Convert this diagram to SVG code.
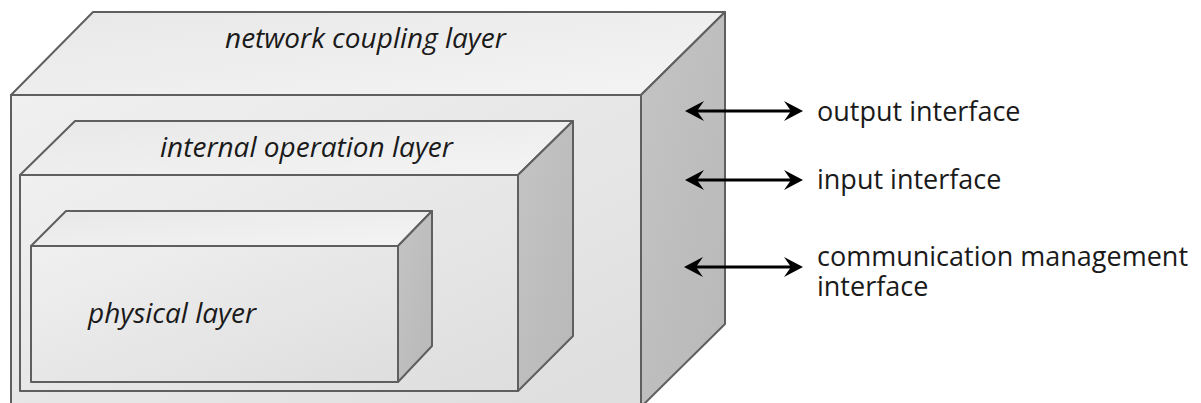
<svg xmlns="http://www.w3.org/2000/svg" width="1201" height="403" viewBox="0 0 1201 403">
<defs>
<linearGradient id="gFront" x1="0" y1="0" x2="1" y2="1">
<stop offset="0" stop-color="#f0f0f0"/><stop offset="1" stop-color="#dedede"/>
</linearGradient>
<linearGradient id="gTop" x1="0" y1="0" x2="1" y2="1">
<stop offset="0" stop-color="#e8e8e8"/><stop offset="1" stop-color="#f4f4f4"/>
</linearGradient>
<linearGradient id="gSide" x1="0" y1="0" x2="1" y2="1">
<stop offset="0" stop-color="#c4c4c4"/><stop offset="1" stop-color="#b8b8b8"/>
</linearGradient>
</defs>
<style>
.front{fill:url(#gFront);stroke:#5f5f5f;stroke-width:2;stroke-linejoin:round}
.top{fill:url(#gTop);stroke:#5f5f5f;stroke-width:2;stroke-linejoin:round}
.side{fill:url(#gSide);stroke:#5f5f5f;stroke-width:2;stroke-linejoin:round}
.lbl{font-family:"Open Sans","Liberation Sans",sans-serif;font-style:italic;font-size:28px;fill:#1a1a1a}
.itf{font-family:"Open Sans","Liberation Sans",sans-serif;font-size:27px;fill:#1a1a1a}
.ln{stroke:#000;stroke-width:3;fill:none}
.hd{fill:#000}
</style>
<g id="network-coupling-layer">
<rect class="front" x="11" y="95" width="630" height="312"/>
<polygon class="top" points="11,95 93,12 725,12 641,95"/>
<polygon class="side" points="641,95 725,12 725,324 641,407"/>
<text class="lbl" x="225" y="48">network coupling layer</text>
</g>
<g id="internal-operation-layer">
<rect class="front" x="20" y="175" width="498" height="216"/>
<polygon class="top" points="20,175 75,121 573,121 518,175"/>
<polygon class="side" points="518,175 573,121 573,336 518,391"/>
<text class="lbl" x="160" y="157">internal operation layer</text>
</g>
<g id="physical-layer">
<rect class="front" x="31" y="246" width="367" height="136"/>
<polygon class="top" points="31,246 66,211 432,211 398,246"/>
<polygon class="side" points="398,246 432,211 432,346 398,382"/>
<text class="lbl" x="88" y="323">physical layer</text>
</g>
<g id="connectors">
<line class="ln" x1="690" y1="111" x2="798" y2="111"/>
<path class="hd" d="M685,111 L704,101 L697,111 L704,121 Z"/>
<path class="hd" d="M803,111 L784,101 L791,111 L784,121 Z"/>
<line class="ln" x1="690" y1="180" x2="798" y2="180"/>
<path class="hd" d="M685,180 L704,170 L697,180 L704,190 Z"/>
<path class="hd" d="M803,180 L784,170 L791,180 L784,190 Z"/>
<line class="ln" x1="689" y1="267" x2="798" y2="267"/>
<path class="hd" d="M684,267 L703,257 L696,267 L703,277 Z"/>
<path class="hd" d="M803,267 L784,257 L791,267 L784,277 Z"/>
</g>
<g id="output-interface">
<text class="itf" x="817" y="121">output interface</text>
</g>
<g id="input-interface">
<text class="itf" x="817" y="189">input interface</text>
</g>
<g id="communication-management-interface">
<text class="itf" x="817" y="266">communication management</text>
<text class="itf" x="817" y="296">interface</text>
</g>
</svg>
